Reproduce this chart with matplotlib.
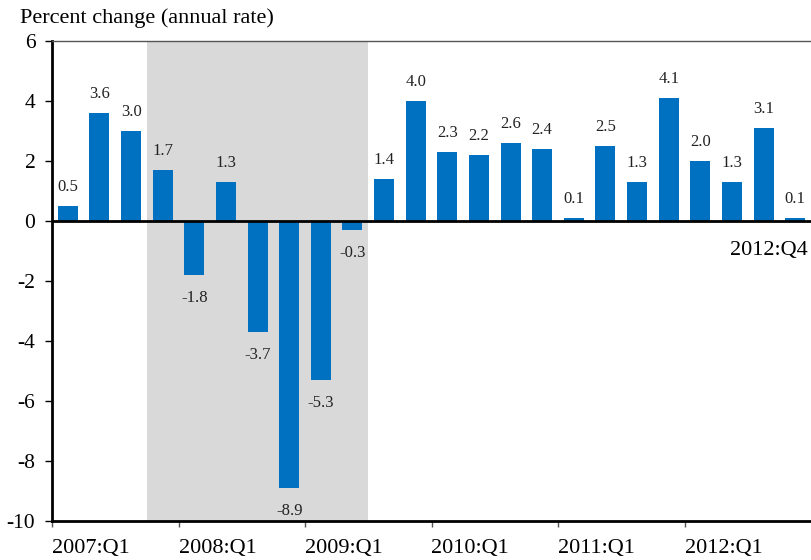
import numpy as np
import matplotlib
matplotlib.use("Agg")
import matplotlib.pyplot as plt

# Real GDP, percent change at annual rate, 2007:Q1 - 2012:Q4
values = [0.5, 3.6, 3.0, 1.7,
          -1.8, 1.3, -3.7, -8.9,
          -5.3, -0.3, 1.4, 4.0,
          2.3, 2.2, 2.6, 2.4,
          0.1, 2.5, 1.3, 4.1,
          2.0, 1.3, 3.1, 0.1]
year_labels = ["2007:Q1", "2008:Q1", "2009:Q1", "2010:Q1", "2011:Q1", "2012:Q1"]
recession = (3, 10)  # 2007:Q4 through 2009:Q2, in quarter index
y_ticks = np.arange(-10, 7, 2)

plt.rcParams['font.family'] = ['Liberation Serif', 'DejaVu Serif']

bar_color = '#0070C0'
shade_color = '#D9D9D9'

fig = plt.figure(figsize=(8.11, 5.6), dpi=100)
ax = fig.add_axes([52/811, 1 - 521/560, 1 - 52/811, 480/560])

x = np.arange(len(values)) + 0.5
ax.axvspan(recession[0], recession[1], color=shade_color, zorder=0, lw=0)
ax.bar(x, values, width=0.63, color=bar_color, zorder=2)
ax.axhline(0, color='black', linewidth=2, zorder=3)

for xi, v in zip(x, values):
    off = 13.5 if v >= 0 else -16.5
    ax.annotate(f"{v:.1f}", (xi, v), xytext=(0, off), textcoords='offset points',
                ha='center', va='center', fontsize=12, color='#222222')

ax.set_xlim(0, len(values))
ax.set_ylim(-10, 6)
ax.set_yticks(y_ticks)
ax.set_yticklabels([str(t) for t in y_ticks], fontsize=15.5)
ax.set_xticks(np.arange(0, 24, 4))
ax.set_xticklabels(year_labels, fontsize=16, ha='left')
ax.tick_params(axis='y', direction='out', length=5, width=1, pad=7)
ax.tick_params(axis='x', direction='out', length=4, width=1, pad=9, color='#555555')

ax.spines['left'].set_linewidth(2)
ax.spines['bottom'].set_linewidth(2)
ax.spines['top'].set_linewidth(1)
ax.spines['top'].set_color('#555555')
ax.spines['right'].set_visible(False)

ax.text(23.9, -1.0, "2012:Q4", ha='right', va='center', fontsize=16)
fig.text(20/811, 1 - 18/560, "Percent change (annual rate)", ha='left', va='center', fontsize=16)

fig.savefig("out.png", dpi=100)
